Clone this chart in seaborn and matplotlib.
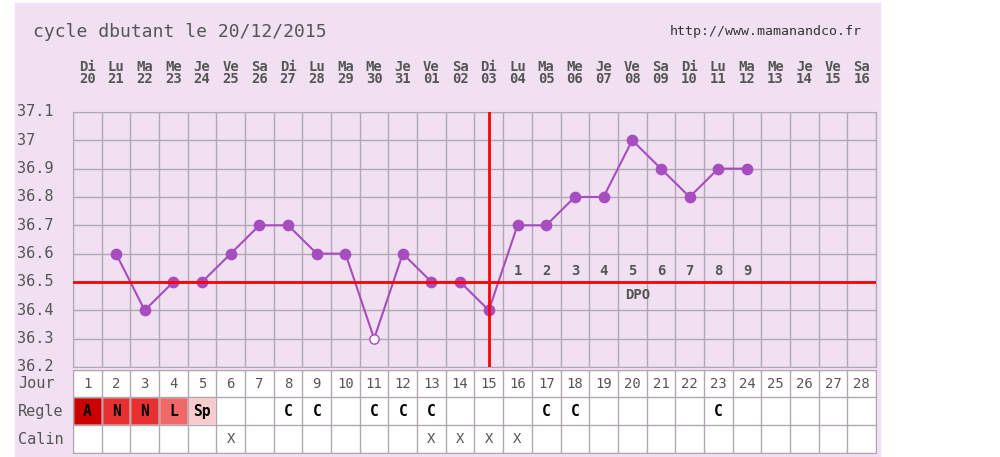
import numpy as np
import pandas as pd
import matplotlib.pyplot as plt
import seaborn as sns

sns.set_style('white')
plt.rcParams['font.family'] = ['DejaVu Sans Mono', 'DejaVu Sans']

days = list(range(1, 29))
day_names = ['Di', 'Lu', 'Ma', 'Me', 'Je', 'Ve', 'Sa'] * 4
dates = ['20', '21', '22', '23', '24', '25', '26', '27', '28', '29', '30', '31',
         '01', '02', '03', '04', '05', '06', '07', '08', '09', '10', '11', '12',
         '13', '14', '15', '16']
temp_days = list(range(2, 25))
temps = [36.6, 36.4, 36.5, 36.5, 36.6, 36.7, 36.7, 36.6, 36.6, 36.3, 36.6, 36.5,
         36.5, 36.4, 36.7, 36.7, 36.8, 36.8, 37.0, 36.9, 36.8, 36.9, 36.9]
excluded_day = 11
ovulation_day = 15
cover_line = 36.5
regle_labels = ['A', 'N', 'N', 'L', 'Sp'] + [''] * 2 + ['C', 'C', '', 'C', 'C', 'C'] + [''] * 3 + ['C', 'C'] + [''] * 4 + ['C'] + [''] * 5
regle_colors = ['#cc0000', '#e83030', '#e83030', '#f06868', '#f8cccc'] + ['white'] * 23
calin_days = [6, 13, 14, 15, 16]

bg = '#f0e0f2'
grid_c = '#b0a8b0'
txt_c = '#555555'
line_c = '#a64dbf'

fig = plt.figure(figsize=(10, 4.57), dpi=100)
fig.patches.append(plt.Rectangle((0.015, 0), 0.865, 0.993, transform=fig.transFigure,
                                 color=bg, zorder=-10))

ax = fig.add_axes([0.073, 0.197, 0.803, 0.558])
ax.set_facecolor(bg)
df = pd.DataFrame({'day': temp_days, 'temp': temps})
sns.lineplot(data=df, x='day', y='temp', color=line_c, lw=1.5, ax=ax, zorder=3)
norm = df[df.day != excluded_day]
ax.scatter(norm.day, norm.temp, s=55, color=line_c, zorder=4)
exc = df[df.day == excluded_day]
ax.scatter(exc.day, exc.temp, s=45, facecolor='white', edgecolor=line_c, zorder=4)
ax.set_xlim(0.5, 28.5)
ax.set_ylim(36.2, 37.1)
ax.set_xlabel('')
ax.set_ylabel('')
ax.set_xticks(np.arange(0.5, 29, 1))
ax.set_yticks(np.arange(36.2, 37.11, 0.1))
ax.grid(True, color=grid_c, lw=1)
ax.tick_params(length=0, labelbottom=False, labelleft=False)
for s in ax.spines.values():
    s.set_color(grid_c)
ax.axvline(ovulation_day, color='red', lw=2, zorder=5)
ax.axhline(cover_line, color='red', lw=2, zorder=5)
for i, d in enumerate(range(ovulation_day + 1, 25)):
    ax.text(d, cover_line + 0.015, str(i + 1), ha='center', va='bottom',
            fontsize=10, fontweight='bold', color=txt_c)
ax.text(20.2, cover_line - 0.02, 'DPO', ha='center', va='top', fontsize=10,
        fontweight='bold', color=txt_c)
for y in np.arange(36.2, 37.11, 0.1):
    fy = 0.197 + 0.558 * (y - 36.2) / 0.9
    fig.text(0.017, fy, f'{y:g}', ha='left', va='center', fontsize=11, color=txt_c)
for d, n, dt in zip(days, day_names, dates):
    ax.text(d, 37.19, n + '\n' + dt, ha='center', va='bottom', fontsize=10,
            fontweight='bold', color=txt_c, linespacing=0.9)

fig.text(0.033, 0.93, 'cycle dbutant le 20/12/2015', fontsize=13, color=txt_c, va='center')
fig.text(0.862, 0.93, 'http://www.mamanandco.fr', fontsize=9.5, color='#333333',
         ha='right', va='center')

# table
tb = fig.add_axes([0.073, 0.009, 0.803, 0.182])
tb.set_xlim(0.5, 28.5)
tb.set_ylim(0, 3)
tb.bar(days, [1] * 28, bottom=2, width=1, color='white')
tb.bar(days, [1] * 28, bottom=1, width=1, color=regle_colors)
tb.bar(days, [1] * 28, bottom=0, width=1, color='white')
tb.set_xticks(np.arange(0.5, 29, 1))
tb.set_yticks([0, 1, 2, 3])
tb.grid(True, color=grid_c, lw=1)
tb.set_axisbelow(False)
tb.tick_params(length=0, labelbottom=False, labelleft=False)
for s in tb.spines.values():
    s.set_color(grid_c)
for d in days:
    tb.text(d, 2.5, str(d), ha='center', va='center', fontsize=10, color=txt_c)
for d, lab in zip(days, regle_labels):
    if lab:
        tb.text(d, 1.5, lab, ha='center', va='center', fontsize=10.5,
                fontweight='bold', color='black')
for d in calin_days:
    tb.text(d, 0.5, 'X', ha='center', va='center', fontsize=10, color=txt_c)
for y, lab in zip([2.5, 1.5, 0.5], ['Jour', 'Regle', 'Calin']):
    fy = 0.009 + 0.182 * y / 3
    fig.text(0.018, fy, lab, ha='left', va='center', fontsize=11, color=txt_c)

fig.savefig('out.png', dpi=100)
